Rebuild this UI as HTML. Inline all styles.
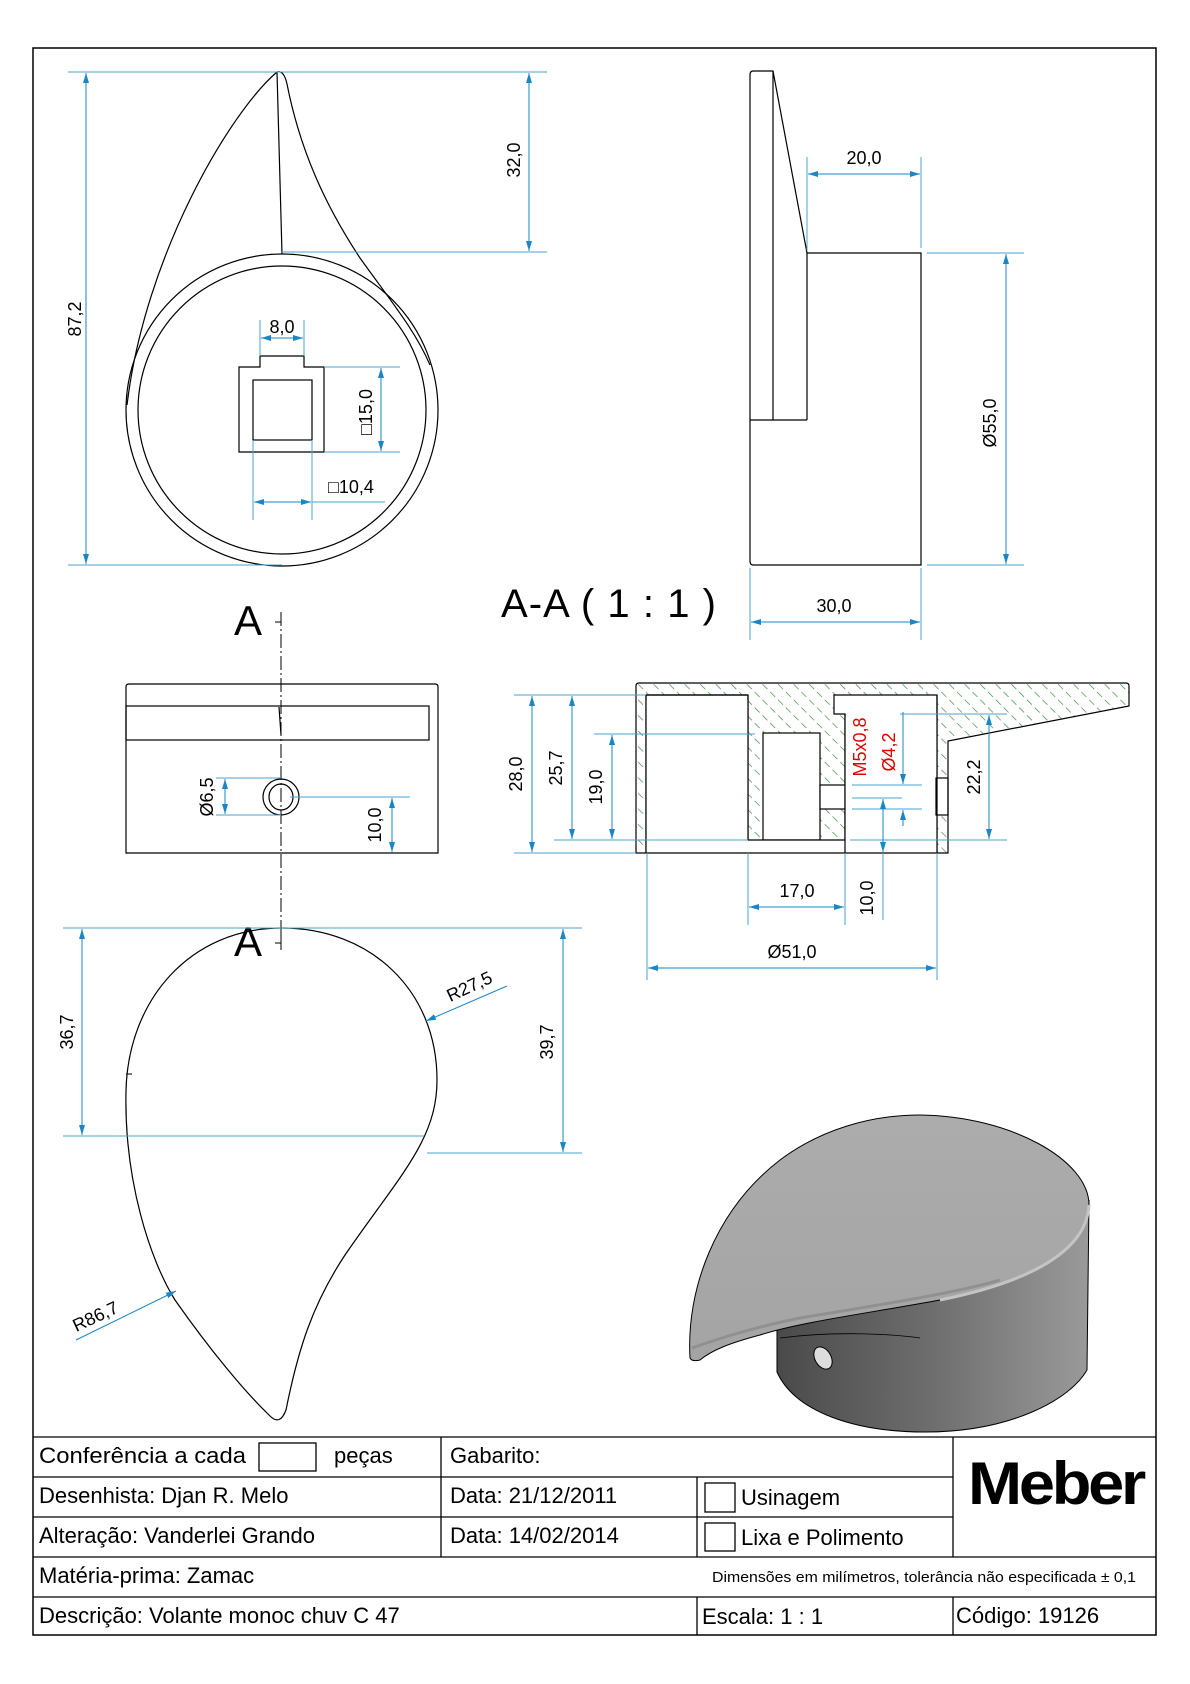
<!DOCTYPE html>
<html><head><meta charset="utf-8"><style>
html,body{margin:0;padding:0;background:#fff}
svg{display:block}
text{font-family:"Liberation Sans",Arial,sans-serif}
</style></head><body>
<svg width="1190" height="1684" viewBox="0 0 1190 1684" xmlns="http://www.w3.org/2000/svg">
<defs>
<marker id="ar" viewBox="0 0 10 6" refX="10" refY="3" markerWidth="10" markerHeight="6" markerUnits="userSpaceOnUse" orient="auto-start-reverse"><path d="M0,0 L10,3 L0,6Z" fill="#1a86c4"/></marker>
<pattern id="hatch" patternUnits="userSpaceOnUse" width="11" height="11" patternTransform="rotate(-45)">
<line x1="0" y1="0" x2="0" y2="11" stroke="#2a8a2a" stroke-width="1.3" stroke-dasharray="7,4"/>
</pattern>
<linearGradient id="body" x1="0" x2="1" y1="0" y2="0"><stop offset="0" stop-color="#4a4a4a"/><stop offset="0.5" stop-color="#6e6e6e"/><stop offset="1" stop-color="#9a9a9a"/></linearGradient>
<linearGradient id="top" x1="0" x2="0" y1="0" y2="1"><stop offset="0" stop-color="#acacac"/><stop offset="1" stop-color="#a4a4a4"/></linearGradient>
</defs>
<rect x="0" y="0" width="1190" height="1684" fill="#fff"/>
<rect x="33" y="48" width="1123" height="1587" fill="none" stroke="#000" stroke-width="1.5"/>

<!-- ===== Top-left view ===== -->
<g fill="none" stroke="#000" stroke-width="1.2">
<circle cx="282" cy="410" r="156"/>
<circle cx="282" cy="410" r="144"/>
<path d="M277,72 C230,112 145,255 127,405"/>
<path d="M277,72 Q284,70 287,84 C300,150 325,205 360,258 C390,300 415,330 430,365"/>
<line x1="277" y1="72" x2="282" y2="254"/>
<path d="M239,367 H260 V356 H304 V367 H324 V452 H239 Z"/>
<rect x="253" y="380" width="59" height="60"/>
</g>
<g stroke="#4aa3d0" stroke-width="1" fill="none">
<line x1="68" y1="72" x2="547" y2="72"/>
<line x1="68" y1="565" x2="282" y2="565"/>
<line x1="282" y1="252" x2="547" y2="252"/>
<line x1="86" y1="73" x2="86" y2="564" marker-start="url(#ar)" marker-end="url(#ar)" stroke="#1a86c4"/>
<line x1="529" y1="73" x2="529" y2="251" marker-start="url(#ar)" marker-end="url(#ar)" stroke="#1a86c4"/>
<line x1="260" y1="320" x2="260" y2="356"/><line x1="304" y1="320" x2="304" y2="356"/>
<line x1="261" y1="338" x2="303" y2="338" marker-start="url(#ar)" marker-end="url(#ar)" stroke="#1a86c4"/>
<line x1="324" y1="367" x2="400" y2="367"/><line x1="324" y1="452" x2="400" y2="452"/>
<line x1="381" y1="368" x2="381" y2="451" marker-start="url(#ar)" marker-end="url(#ar)" stroke="#1a86c4"/>
<line x1="253" y1="440" x2="253" y2="520"/><line x1="312" y1="440" x2="312" y2="520"/>
<line x1="254" y1="502" x2="311" y2="502" marker-start="url(#ar)" marker-end="url(#ar)" stroke="#1a86c4"/>
<line x1="312" y1="502" x2="385" y2="502"/>
</g>
<g font-size="18" fill="#000">
<text x="75" y="319" text-anchor="middle" transform="rotate(-90 75 319)" dy="6">87,2</text>
<text x="514" y="160" text-anchor="middle" transform="rotate(-90 514 160)" dy="6">32,0</text>
<text x="282" y="333" text-anchor="middle">8,0</text>
<text x="366" y="412" text-anchor="middle" transform="rotate(-90 366 412)" dy="6">□15,0</text>
<text x="328" y="493">□10,4</text>
</g>

<!-- ===== Top-right side view ===== -->
<g fill="none" stroke="#000" stroke-width="1.2">
<path d="M753,71 H773 L807,253 H921 V565 H753 Q750,565 750,561 V75 Q750,71 753,71Z"/>
<line x1="773" y1="71" x2="773" y2="420"/>
<line x1="807" y1="253" x2="807" y2="420"/>
<line x1="750" y1="420" x2="807" y2="420"/>
</g>
<g stroke="#4aa3d0" stroke-width="1" fill="none">
<line x1="807" y1="157" x2="807" y2="250"/><line x1="921" y1="157" x2="921" y2="248"/>
<line x1="808" y1="174" x2="920" y2="174" marker-start="url(#ar)" marker-end="url(#ar)" stroke="#1a86c4"/>
<line x1="927" y1="253" x2="1024" y2="253"/><line x1="927" y1="565" x2="1024" y2="565"/>
<line x1="1006" y1="254" x2="1006" y2="564" marker-start="url(#ar)" marker-end="url(#ar)" stroke="#1a86c4"/>
<line x1="750" y1="568" x2="750" y2="640"/><line x1="921" y1="568" x2="921" y2="640"/>
<line x1="751" y1="622" x2="920" y2="622" marker-start="url(#ar)" marker-end="url(#ar)" stroke="#1a86c4"/>
</g>
<g font-size="18" fill="#000">
<text x="864" y="164" text-anchor="middle">20,0</text>
<text x="990" y="423" text-anchor="middle" transform="rotate(-90 990 423)" dy="6">Ø55,0</text>
<text x="834" y="612" text-anchor="middle">30,0</text>
</g>
<text x="501" y="617" font-size="40" fill="#000" textLength="215" lengthAdjust="spacing">A-A ( 1 : 1 )</text>

<!-- ===== section line A ===== -->
<line x1="281" y1="612" x2="281" y2="950" stroke="#000" stroke-width="1" stroke-dasharray="14,3,2,3"/>
<text x="234" y="635" font-size="42" fill="#000">A</text>
<line x1="275" y1="622" x2="281" y2="622" stroke="#000"/>
<text x="234" y="956" font-size="42" fill="#000">A</text>
<line x1="275" y1="943" x2="281" y2="943" stroke="#000"/>

<!-- ===== Middle-left view ===== -->
<g fill="none" stroke="#000" stroke-width="1.2">
<path d="M129,684 H435 Q438,684 438,687 V853 H126 V687 Q126,684 129,684Z"/>
<rect x="126" y="706" width="303" height="34"/>
<line x1="279" y1="707" x2="281" y2="735"/>
<ellipse cx="281" cy="797" rx="18" ry="18"/>
<ellipse cx="281" cy="797" rx="12" ry="13"/>
</g>
<g stroke="#4aa3d0" stroke-width="1" fill="none">
<line x1="216" y1="778" x2="281" y2="778"/><line x1="216" y1="815" x2="281" y2="815"/>
<line x1="225" y1="779" x2="225" y2="814" marker-start="url(#ar)" marker-end="url(#ar)" stroke="#1a86c4"/>
<line x1="290" y1="797" x2="410" y2="797"/>
<line x1="392" y1="798" x2="392" y2="852" marker-start="url(#ar)" marker-end="url(#ar)" stroke="#1a86c4"/>
</g>
<g font-size="18" fill="#000">
<text x="207" y="797" text-anchor="middle" transform="rotate(-90 207 797)" dy="6">Ø6,5</text>
<text x="375" y="825" text-anchor="middle" transform="rotate(-90 375 825)" dy="6">10,0</text>
</g>

<!-- ===== Section A-A ===== -->
<path d="M639,683 H1126 Q1129,683 1129,686 V706 L948,741 V853 H636 V686 Q636,683 639,683Z" fill="url(#hatch)" stroke="none"/>
<g fill="#fff" stroke="#000" stroke-width="1.2">
<path d="M646,853 V695 H748 V840"/>
<rect x="763" y="733" width="57" height="107"/>
<path d="M845,853 V714 H834 V695 H937 V853"/>
<rect x="820" y="785" width="25" height="24"/>
<rect x="748" y="840" width="97" height="13" stroke="none"/>
<rect x="646" y="700" width="102" height="153" stroke="none"/>
<rect x="845" y="716" width="92" height="137" stroke="none"/>
<rect x="936" y="778" width="12" height="37" stroke="#000"/>
</g>
<g fill="none" stroke="#000" stroke-width="1.2">
<path d="M639,683 H1126 Q1129,683 1129,686 V706 L948,741 V853 H636 V686 Q636,683 639,683Z"/>
<line x1="646" y1="695" x2="646" y2="853"/>
<line x1="748" y1="695" x2="748" y2="840"/>
<line x1="646" y1="695" x2="748" y2="695"/>
<line x1="748" y1="840" x2="845" y2="840"/>
<line x1="937" y1="695" x2="937" y2="853"/>
<line x1="845" y1="714" x2="845" y2="853"/>
</g>
<g stroke="#4aa3d0" stroke-width="1" fill="none">
<line x1="514" y1="695" x2="646" y2="695"/>
<line x1="514" y1="853" x2="636" y2="853"/>
<line x1="554" y1="840" x2="748" y2="840"/>
<line x1="594" y1="734" x2="755" y2="734"/>
<line x1="532" y1="696" x2="532" y2="852" marker-start="url(#ar)" marker-end="url(#ar)" stroke="#1a86c4"/>
<line x1="572" y1="696" x2="572" y2="839" marker-start="url(#ar)" marker-end="url(#ar)" stroke="#1a86c4"/>
<line x1="612" y1="735" x2="612" y2="839" marker-start="url(#ar)" marker-end="url(#ar)" stroke="#1a86c4"/>
<line x1="900" y1="714" x2="1007" y2="714"/>
<line x1="850" y1="840" x2="1007" y2="840"/>
<line x1="989" y1="715" x2="989" y2="839" marker-start="url(#ar)" marker-end="url(#ar)" stroke="#1a86c4"/>
<line x1="852" y1="785" x2="922" y2="785"/><line x1="852" y1="809" x2="922" y2="809"/>
<line x1="903" y1="712" x2="903" y2="784" marker-end="url(#ar)" stroke="#1a86c4"/>
<line x1="903" y1="826" x2="903" y2="810" marker-end="url(#ar)" stroke="#1a86c4"/>
<line x1="852" y1="798" x2="902" y2="798"/>
<line x1="883" y1="799" x2="883" y2="852" marker-start="url(#ar)" marker-end="url(#ar)" stroke="#1a86c4"/>
<line x1="883" y1="853" x2="883" y2="920"/>
<line x1="748" y1="853" x2="748" y2="925"/><line x1="845" y1="853" x2="845" y2="925"/>
<line x1="749" y1="907" x2="844" y2="907" marker-start="url(#ar)" marker-end="url(#ar)" stroke="#1a86c4"/>
<line x1="647" y1="853" x2="647" y2="980"/><line x1="937" y1="853" x2="937" y2="980"/>
<line x1="648" y1="968" x2="936" y2="968" marker-start="url(#ar)" marker-end="url(#ar)" stroke="#1a86c4"/>
</g>
<g font-size="18" fill="#000">
<text x="516" y="774" text-anchor="middle" transform="rotate(-90 516 774)" dy="6">28,0</text>
<text x="556" y="768" text-anchor="middle" transform="rotate(-90 556 768)" dy="6">25,7</text>
<text x="596" y="787" text-anchor="middle" transform="rotate(-90 596 787)" dy="6">19,0</text>
<text x="974" y="777" text-anchor="middle" transform="rotate(-90 974 777)" dy="6">22,2</text>
<text x="867" y="898" text-anchor="middle" transform="rotate(-90 867 898)" dy="6">10,0</text>
<text x="797" y="897" text-anchor="middle">17,0</text>
<text x="792" y="958" text-anchor="middle">Ø51,0</text>
</g>
<g font-size="18" fill="#e00000">
<text x="860" y="747" text-anchor="middle" transform="rotate(-90 860 747)" dy="6">M5x0,8</text>
<text x="889" y="752" text-anchor="middle" transform="rotate(-90 889 752)" dy="6">Ø4,2</text>
</g>

<!-- ===== Bottom drop view ===== -->
<path d="M282,928 C190,928 128,1000 126,1091 C124,1180 150,1260 175,1300 C210,1350 245,1392 270,1416 Q280,1426 286,1410 C298,1350 312,1305 345,1255 C400,1175 437,1140 437,1080 C437,990 370,928 282,928Z" fill="none" stroke="#000" stroke-width="1.2"/>
<line x1="126" y1="1074" x2="132" y2="1074" stroke="#000"/>
<line x1="281" y1="925" x2="281" y2="950" stroke="#000"/>
<g stroke="#4aa3d0" stroke-width="1" fill="none">
<line x1="63" y1="928" x2="582" y2="928"/>
<line x1="63" y1="1136" x2="424" y2="1136"/>
<line x1="427" y1="1153" x2="582" y2="1153"/>
<line x1="82" y1="929" x2="82" y2="1135" marker-start="url(#ar)" marker-end="url(#ar)" stroke="#1a86c4"/>
<line x1="563" y1="929" x2="563" y2="1152" marker-start="url(#ar)" marker-end="url(#ar)" stroke="#1a86c4"/>
<line x1="507" y1="986" x2="426" y2="1021" marker-end="url(#ar)" stroke="#1a86c4"/>
<line x1="76" y1="1340" x2="176" y2="1291" marker-end="url(#ar)" stroke="#1a86c4"/>
</g>
<g font-size="18" fill="#000">
<text x="67" y="1032" text-anchor="middle" transform="rotate(-90 67 1032)" dy="6">36,7</text>
<text x="547" y="1042" text-anchor="middle" transform="rotate(-90 547 1042)" dy="6">39,7</text>
<text x="472" y="992" text-anchor="middle" transform="rotate(-25 472 992)">R27,5</text>
<text x="98" y="1322" text-anchor="middle" transform="rotate(-25 98 1322)">R86,7</text>
</g>

<!-- ===== 3D render ===== -->
<path d="M777,1330 L777,1372 C795,1412 855,1432 925,1432 C1010,1432 1070,1400 1087,1370 L1089,1200 C1080,1255 1000,1285 940,1298 C880,1310 810,1320 777,1330Z" fill="url(#body)" stroke="#000" stroke-width="1"/>
<path d="M690,1358 C686,1290 715,1210 780,1160 C820,1130 870,1115 920,1115 C1010,1116 1089,1160 1089,1205 C1086,1262 1000,1288 940,1300 C870,1313 800,1322 760,1335 C730,1343 712,1350 700,1360 Q692,1362 690,1358Z" fill="url(#top)" stroke="#000" stroke-width="1"/>
<path d="M1089,1205 C1086,1262 1000,1288 940,1300" fill="none" stroke="#c4c4c4" stroke-width="3"/>
<path d="M692,1348 C720,1338 760,1326 800,1318 C880,1305 960,1292 1000,1280" fill="none" stroke="#909090" stroke-width="3"/>
<path d="M780,1338 C840,1330 900,1335 920,1338" fill="none" stroke="#000" stroke-width="0.8"/>
<ellipse cx="823" cy="1358" rx="8" ry="12" transform="rotate(-30 823 1358)" fill="#ddd" stroke="#000" stroke-width="1"/>

<!-- ===== Title block ===== -->
<g stroke="#000" stroke-width="1.3" fill="none">
<line x1="33" y1="1437" x2="1156" y2="1437"/>
<line x1="33" y1="1477" x2="953" y2="1477"/>
<line x1="33" y1="1517" x2="953" y2="1517"/>
<line x1="33" y1="1557" x2="1156" y2="1557"/>
<line x1="33" y1="1597" x2="1156" y2="1597"/>
<line x1="441" y1="1437" x2="441" y2="1557"/>
<line x1="697" y1="1477" x2="697" y2="1557"/>
<line x1="697" y1="1597" x2="697" y2="1635"/>
<line x1="953" y1="1437" x2="953" y2="1557"/>
<line x1="953" y1="1597" x2="953" y2="1635"/>
<rect x="259" y="1443" width="57" height="28"/>
<rect x="705" y="1483" width="30" height="29"/>
<rect x="705" y="1523" width="30" height="28"/>
</g>
<g font-size="22" fill="#000">
<text x="39" y="1463" textLength="207" lengthAdjust="spacingAndGlyphs">Conferência a cada</text>
<text x="334" y="1463">peças</text>
<text x="450" y="1463">Gabarito:</text>
<text x="39" y="1503">Desenhista: Djan R. Melo</text>
<text x="450" y="1503">Data: 21/12/2011</text>
<text x="741" y="1505">Usinagem</text>
<text x="39" y="1543">Alteração: Vanderlei Grando</text>
<text x="450" y="1543">Data: 14/02/2014</text>
<text x="741" y="1545">Lixa e Polimento</text>
<text x="39" y="1583">Matéria-prima: Zamac</text>
<text x="39" y="1623">Descrição: Volante monoc chuv C 47</text>
<text x="702" y="1624">Escala: 1 : 1</text>
<text x="956" y="1623">Código: 19126</text>
</g>
<text x="712" y="1582" font-size="14.5" fill="#000" textLength="424" lengthAdjust="spacingAndGlyphs">Dimensões em milímetros, tolerância não especificada ± 0,1</text>
<text x="968" y="1504" font-size="60" font-weight="bold" fill="#000" textLength="175" lengthAdjust="spacingAndGlyphs" letter-spacing="-3">Meber</text>
</svg>
</body></html>
